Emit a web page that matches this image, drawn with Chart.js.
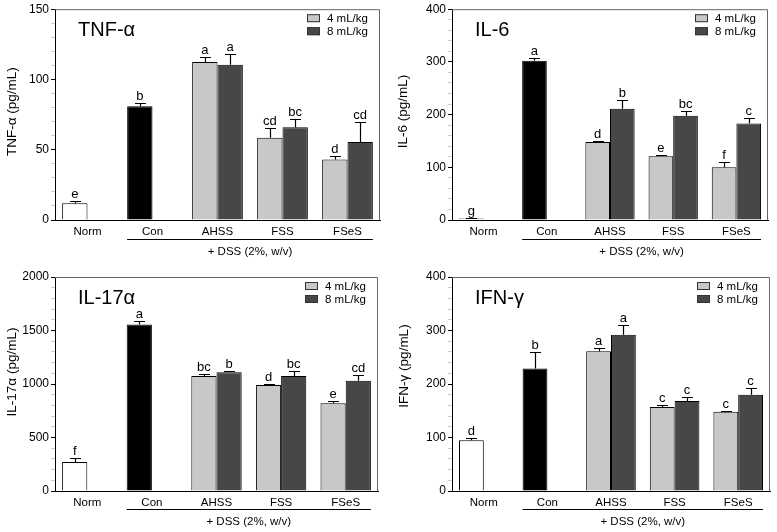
<!DOCTYPE html>
<html>
<head>
<meta charset="utf-8">
<script src="https://cdn.jsdelivr.net/npm/chart.js@4.4.1/dist/chart.umd.min.js"></script>
<style>
  body { margin: 0; background: #fff; }
  #wrap { position: relative; width: 777px; height: 532px; }
  .panel { position: absolute; }
</style>
</head>
<body>
<div id="wrap">
  <div class="panel" style="left:0;top:0"><canvas id="tnf" width="388" height="266"></canvas></div>
  <div class="panel" style="left:389px;top:0"><canvas id="il6" width="388" height="266"></canvas></div>
  <div class="panel" style="left:0;top:266px"><canvas id="il17" width="388" height="266"></canvas></div>
  <div class="panel" style="left:389px;top:266px"><canvas id="ifn" width="388" height="266"></canvas></div>
</div>
<script>
// groups on the x axis
const groups = ['Norm', 'Con', 'AHSS', 'FSS', 'FSeS'];
const doseLabels = ['4 mL/kg', '8 mL/kg'];

// TNF-alpha
const tnfLow = [12, 81, 112.5, 58.5, 43];
const tnfLowErr = [1.3, 2.5, 3.4, 6.8, 2.2];
const tnfHigh = [null, null, 110.5, 66, 55.5];
const tnfHighErr = [null, null, 7.5, 6, 14];
const tnfLowLetters = ['e', 'b', 'a', 'cd', 'd'];
const tnfHighLetters = [null, null, 'a', 'bc', 'cd'];

// IL-6
const il6Low = [3, 302, 148, 121, 100];
const il6LowErr = [1, 6, 1.5, 3, 11];
const il6High = [null, null, 211, 198, 183];
const il6HighErr = [null, null, 16, 8, 10];
const il6LowLetters = ['g', 'a', 'd', 'e', 'f'];
const il6HighLetters = [null, null, 'b', 'bc', 'c'];

// IL-17alpha
const il17Low = [270, 1555, 1075, 990, 820];
const il17LowErr = [35, 35, 15, 10, 25];
const il17High = [null, null, 1110, 1075, 1030];
const il17HighErr = [null, null, 15, 45, 50];
const il17LowLetters = ['f', 'a', 'bc', 'd', 'e'];
const il17HighLetters = [null, null, 'b', 'bc', 'cd'];

// IFN-gamma
const ifnLow = [95, 229, 261, 157, 148];
const ifnLowErr = [4, 31, 6, 4, 2];
const ifnHigh = [null, null, 292, 168, 180];
const ifnHighErr = [null, null, 18, 8, 12];
const ifnLowLetters = ['d', 'b', 'a', 'c', 'c'];
const ifnHighLetters = [null, null, 'a', 'c', 'c'];

const FONT = '"Liberation Sans", Arial, sans-serif';
const LIGHT = '#c8c8c8';
const DARK = '#474747';

const extras = {
  id: 'extras',
  afterDatasetsDraw(chart, args, opts) {
    const ctx = chart.ctx;
    const y = chart.scales.y;
    const x = chart.scales.x;
    const area = chart.chartArea;
    ctx.save();

    // frame top + right
    ctx.strokeStyle = '#666';
    ctx.lineWidth = 1;
    ctx.beginPath();
    ctx.moveTo(area.left, area.top + 0.5);
    ctx.lineTo(area.right - 0.5, area.top + 0.5);
    ctx.lineTo(area.right - 0.5, area.bottom);
    ctx.stroke();

    // error bars + letters
    chart.data.datasets.forEach((ds, di) => {
      const meta = chart.getDatasetMeta(di);
      meta.data.forEach((bar, i) => {
        const v = ds.data[i];
        if (v == null) return;
        const top = Math.round(y.getPixelForValue(v + ds.errors[i])) + 0.5;
        const bx = Math.round(bar.x) + 0.5;
        ctx.strokeStyle = '#000';
        ctx.lineWidth = 1.2;
        ctx.beginPath();
        ctx.moveTo(bx, bar.y);
        ctx.lineTo(bx, top);
        ctx.moveTo(bx - 5.5, top);
        ctx.lineTo(bx + 5.5, top);
        ctx.stroke();
        if (ds.letters[i]) {
          ctx.fillStyle = '#000';
          ctx.font = '13px ' + FONT;
          ctx.textAlign = 'center';
          ctx.textBaseline = 'alphabetic';
          ctx.fillText(ds.letters[i], bar.x, top - 4);
        }
      });
    });

    // title inside the plot
    ctx.fillStyle = '#000';
    ctx.font = '20px ' + FONT;
    ctx.textAlign = 'left';
    ctx.textBaseline = 'alphabetic';
    ctx.fillText(opts.title, area.left + 23, area.top + 27);

    // y axis title
    ctx.save();
    ctx.translate(opts.yTitleX, (area.top + area.bottom) / 2 + opts.yTitleDy);
    ctx.rotate(-Math.PI / 2);
    ctx.font = '13.5px ' + FONT;
    ctx.textAlign = 'center';
    ctx.textBaseline = 'middle';
    ctx.fillText(opts.yTitle, 0, 0);
    ctx.restore();

    // legend
    const lx = area.right - 73;
    [LIGHT, DARK].forEach((c, k) => {
      const cy = area.top + 9 + k * 13;
      ctx.fillStyle = c;
      ctx.fillRect(lx, cy - 4, 13, 8);
      ctx.strokeStyle = '#333';
      ctx.lineWidth = 1;
      ctx.strokeRect(lx + 0.5, cy - 3.5, 12, 7);
      ctx.fillStyle = '#000';
      ctx.font = '11.5px ' + FONT;
      ctx.textAlign = 'left';
      ctx.textBaseline = 'middle';
      ctx.fillText(doseLabels[k], lx + 20, cy + 0.5);
    });

    // DSS bracket under the axis
    const half = (x.getPixelForValue(1) - x.getPixelForValue(0)) * 0.39;
    const x0 = x.getPixelForValue(1) - half;
    const x1 = x.getPixelForValue(4) + half;
    const ly = Math.round(area.bottom + opts.lineGap) + 0.5;
    ctx.strokeStyle = '#000';
    ctx.beginPath();
    ctx.moveTo(x0, ly);
    ctx.lineTo(x1, ly);
    ctx.stroke();
    ctx.fillStyle = '#000';
    ctx.font = '11.5px ' + FONT;
    ctx.textAlign = 'center';
    ctx.textBaseline = 'middle';
    ctx.fillText('+ DSS (2%, w/v)', (x0 + x1) / 2, ly + 12.5);
    ctx.restore();
  }
};

function makePanel(id, p) {
  const ctx = document.getElementById(id).getContext('2d');
  return new Chart(ctx, {
    type: 'bar',
    data: {
      labels: groups,
      datasets: [
        {
          label: doseLabels[0],
          data: p.low,
          errors: p.lowErr,
          letters: p.lowLetters,
          backgroundColor: ['#ffffff', '#000000', LIGHT, LIGHT, LIGHT],
          borderColor: '#000',
          borderWidth: 1
        },
        {
          label: doseLabels[1],
          data: p.high,
          errors: p.highErr,
          letters: p.highLetters,
          backgroundColor: DARK,
          borderColor: '#000',
          borderWidth: 1
        }
      ]
    },
    options: {
      responsive: false,
      animation: false,
      layout: { padding: { top: p.top, right: p.right, left: 0, bottom: 0 } },
      datasets: { bar: { barPercentage: 1, categoryPercentage: 0.78 } },
      plugins: {
        legend: { display: false },
        tooltip: { enabled: false },
        extras: { title: p.title, yTitle: p.yTitle, yTitleX: p.yTitleX, yTitleDy: p.yTitleDy, lineGap: p.lineGap }
      },
      scales: {
        x: {
          grid: { display: false, drawTicks: false },
          border: { color: '#000', width: 1 },
          ticks: { color: '#000', font: { family: FONT, size: 11.5 }, padding: 5 },
          afterFit: s => { s.height = p.xh; }
        },
        y: {
          min: 0,
          max: p.max,
          ticks: {
            stepSize: p.minor,
            autoSkip: false,
            color: '#000',
            padding: 2,
            font: { family: FONT, size: 12 },
            callback: v => (v % p.major === 0 ? v : '')
          },
          grid: {
            drawOnChartArea: false,
            tickLength: 4,
            tickColor: c => (c.tick && c.tick.value % p.major === 0 ? '#000' : '#ccc')
          },
          border: { color: '#000', width: 1 },
          afterFit: s => { s.width = p.yw; }
        }
      }
    },
    plugins: [extras]
  });
}

makePanel('tnf', {
  title: 'TNF-\u03b1', yTitle: 'TNF-\u03b1 (pg/mL)', max: 150, major: 50, minor: 10,
  low: tnfLow, lowErr: tnfLowErr, lowLetters: tnfLowLetters,
  high: tnfHigh, highErr: tnfHighErr, highLetters: tnfHighLetters,
  top: 5, right: 8, yw: 55, xh: 46, lineGap: 19, yTitleX: 12, yTitleDy: -3
});
makePanel('il6', {
  title: 'IL-6', yTitle: 'IL-6 (pg/mL)', max: 400, major: 100, minor: 20,
  low: il6Low, lowErr: il6LowErr, lowLetters: il6LowLetters,
  high: il6High, highErr: il6HighErr, highLetters: il6HighLetters,
  top: 5, right: 9, yw: 63, xh: 46, lineGap: 19, yTitleX: 14, yTitleDy: -3
});
makePanel('il17', {
  title: 'IL-17\u03b1', yTitle: 'IL-17\u03b1 (pg/mL)', max: 2000, major: 500, minor: 100,
  low: il17Low, lowErr: il17LowErr, lowLetters: il17LowLetters,
  high: il17High, highErr: il17HighErr, highLetters: il17HighLetters,
  top: 11, right: 10, yw: 55, xh: 41, lineGap: 18, yTitleX: 12, yTitleDy: -12
});
makePanel('ifn', {
  title: 'IFN-\u03b3', yTitle: 'IFN-\u03b3 (pg/mL)', max: 400, major: 100, minor: 20,
  low: ifnLow, lowErr: ifnLowErr, lowLetters: ifnLowLetters,
  high: ifnHigh, highErr: ifnHighErr, highLetters: ifnHighLetters,
  top: 11, right: 7, yw: 63, xh: 41, lineGap: 18, yTitleX: 15, yTitleDy: -18
});
</script>
</body>
</html>
